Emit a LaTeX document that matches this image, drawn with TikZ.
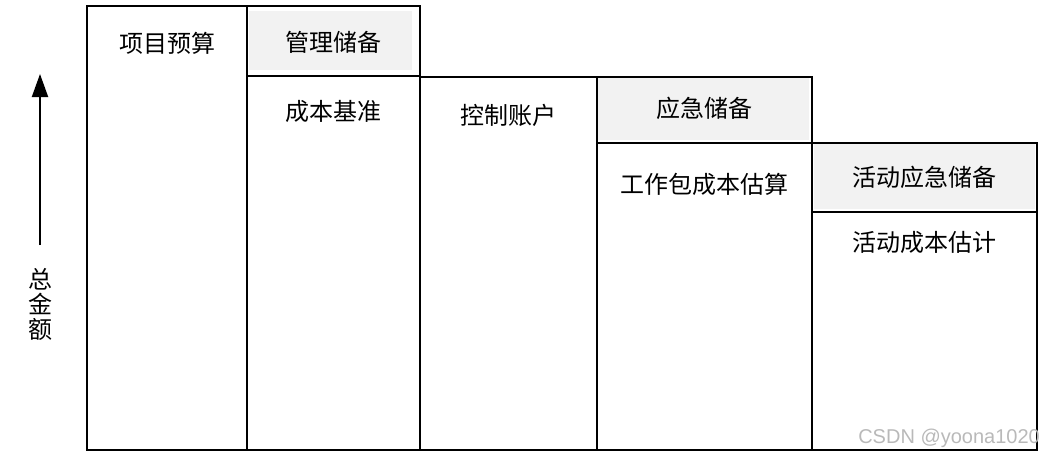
\documentclass[tikz,border=0pt]{standalone}
\usepackage{fontspec}
\newfontfamily\cjk{Noto Sans CJK SC}
\newfontfamily\wmfont{Liberation Sans}
\usepackage{tikz}
\usetikzlibrary{positioning, calc, arrows.meta}
\definecolor{resGray}{RGB}{242, 242, 242}

\begin{document}
\begin{tikzpicture}[
    x=1pt, y=-1pt,
    col/.style={rectangle, draw=black, line width=2pt, anchor=north west,
                inner sep=0pt},
    resbox/.style={rectangle, fill=resGray, anchor=north west, inner sep=0pt},
    lbl/.style={font=\cjk\fontsize{24}{25}\selectfont, inner sep=0pt},
    arrow/.style={-{Triangle[length=23pt, width=16pt]}, line width=2pt},
  ]
    \useasboundingbox (0,0) rectangle (1043,456);

    % Reserve fills
    \node[resbox, minimum width=163pt, minimum height=59pt] (MRF) at (249,11) {};
    \node[resbox, minimum width=211pt, minimum height=62pt] (CRF) at (598,78) {};
    \node[resbox, minimum width=221pt, minimum height=65pt] (ARF) at (814,144) {};

    % Columns
    \node[col, minimum width=160pt, minimum height=444pt] (BUD) at (86,5) {};
    \node[col, minimum width=173pt, minimum height=70pt]  (MR)  at (246,5) {};
    \node[col, minimum width=173pt, minimum height=374pt] (CB)  at (246,75) {};
    \node[col, minimum width=177pt, minimum height=373pt] (CA)  at (419,76) {};
    \node[col, minimum width=215pt, minimum height=66pt]  (CR)  at (596,76) {};
    \node[col, minimum width=215pt, minimum height=307pt] (WP)  at (596,142) {};
    \node[col, minimum width=225pt, minimum height=69pt]  (AR)  at (811,142) {};
    \node[col, minimum width=225pt, minimum height=238pt] (AC)  at (811,211) {};

    % Labels
    \node[lbl] (tBUD) at ($(BUD.north)+(0,38)$) {项目预算};
    \node[lbl] (tMR)  at ($(MR.north)+(0,37)$)  {管理储备};
    \node[lbl] (tCB)  at ($(CB.north)+(0,36)$)  {成本基准};
    \node[lbl] (tCA)  at ($(CA.north)+(0,39)$)  {控制账户};
    \node[lbl] (tCR)  at ($(CR.north)+(0,32)$)  {应急储备};
    \node[lbl] (tWP)  at ($(WP.north)+(0,42)$)  {工作包成本估算};
    \node[lbl] (tAR)  at ($(AR.north)+(0,35)$)  {活动应急储备};
    \node[lbl] (tAC)  at ($(AC.north)+(0,31)$)  {活动成本估计};

    % Axis
    \coordinate (ATAIL) at (40,245);
    \coordinate (AHEAD) at (40,74);
    \draw[arrow] (ATAIL) -- (AHEAD);
    \node[lbl, align=center] (TOT) at (40,304) {总\\金\\额};

    % Watermark
    \node[font=\wmfont\fontsize{20}{20}\selectfont, text=gray!55, anchor=east,
          inner sep=0pt] (WM) at (1040,438) {CSDN @yoona1020};
\end{tikzpicture}
\end{document}
